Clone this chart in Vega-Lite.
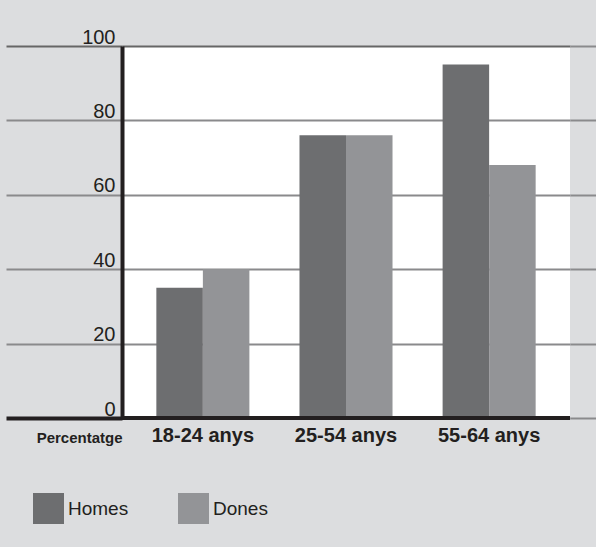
{
  "$schema": "https://vega.github.io/schema/vega-lite/v6.json",
  "autosize": {"type": "none"},
  "padding": {"left": 122, "top": 46, "right": 26, "bottom": 129},
  "width": 448,
  "height": 372,
  "background": "#dcdddf",
  "view": {"fill": "white", "stroke": null},
  "config": {"font": "Liberation Sans"},
  "data": {
    "values": [
      {"grup": "18-24 anys", "sexe": "Homes", "valor": 35},
      {"grup": "18-24 anys", "sexe": "Dones", "valor": 40},
      {"grup": "25-54 anys", "sexe": "Homes", "valor": 76},
      {"grup": "25-54 anys", "sexe": "Dones", "valor": 76},
      {"grup": "55-64 anys", "sexe": "Homes", "valor": 95},
      {"grup": "55-64 anys", "sexe": "Dones", "valor": 68}
    ]
  },
  "layer": [
    {
      "mark": {"type": "bar"},
      "encoding": {
        "x": {
          "field": "grup", "type": "nominal", "sort": null,
          "scale": {"paddingInner": 0.35, "paddingOuter": 0.24},
          "axis": {
            "title": "Percentatge",
            "titleFont": "Liberation Sans", "titleFontWeight": "bold", "titleFontSize": 15,
            "titleColor": "#231f20", "titleAlign": "right", "titleAnchor": "start",
            "titleX": 0, "titleY": 24, "titleBaseline": "alphabetic", "titleAngle": 0,
            "labelAngle": 0, "labelFontWeight": "bold", "labelFontSize": 20,
            "labelColor": "#231f20", "labelPadding": 7,
            "domain": false, "ticks": false, "grid": false
          }
        },
        "xOffset": {"field": "sexe", "type": "nominal", "sort": ["Homes", "Dones"], "scale": {"paddingInner": 0, "paddingOuter": 0}},
        "y": {
          "field": "valor", "type": "quantitative",
          "scale": {"domain": [0, 100], "nice": false},
          "axis": {
            "title": null, "values": [0, 20, 40, 60, 80, 100],
            "orient": "left",
            "domain": true, "domainColor": "#231f20", "domainWidth": 4,
            "ticks": true, "tickSize": 116,
            "tickColor": {"condition": [{"test": "datum.value === 0", "value": "#231f20"}, {"test": "datum.value === 100", "value": "#666666"}], "value": "#8a8a8c"},
            "tickWidth": {"condition": {"test": "datum.value === 0", "value": 4}, "value": 2},
            "grid": true,
            "gridColor": {"condition": {"test": "datum.value === 100", "value": "#666666"}, "value": "#8a8a8c"},
            "gridWidth": 2,
            "labelFontSize": 20, "labelColor": "#231f20",
            "labelAlign": "right", "labelBaseline": "alphabetic",
            "labelPadding": -109, "labelOffset": -3
          }
        },
        "color": {
          "field": "sexe", "type": "nominal", "sort": ["Homes", "Dones"],
          "scale": {"domain": ["Homes", "Dones"], "range": ["#6d6e70", "#939497"]},
          "legend": {
            "title": null, "orient": "none", "direction": "horizontal",
            "legendX": -89, "legendY": 447,
            "symbolType": "square", "symbolSize": 961, "symbolStrokeWidth": 0, "symbolOpacity": 1,
            "labelFontSize": 19, "labelColor": "#231f20", "labelOffset": 4,
            "columnPadding": 49, "padding": 0
          }
        }
      }
    },
    {
      "mark": {"type": "rule", "color": "#231f20", "strokeWidth": 4},
      "encoding": {"y": {"datum": 0, "type": "quantitative", "axis": null}}
    },
    {
      "mark": {"type": "tick", "opacity": 0},
      "encoding": {
        "y": {
          "field": "valor", "type": "quantitative",
          "axis": {
            "orient": "right", "title": null, "values": [0, 20, 40, 60, 80, 100],
            "labels": true, "labelExpr": "''", "domain": false, "grid": false,
            "ticks": true, "tickSize": 26, "tickColor": "#8a8a8c", "tickWidth": 2
          }
        }
      }
    }
  ],
  "resolve": {"axis": {"y": "independent"}}
}
